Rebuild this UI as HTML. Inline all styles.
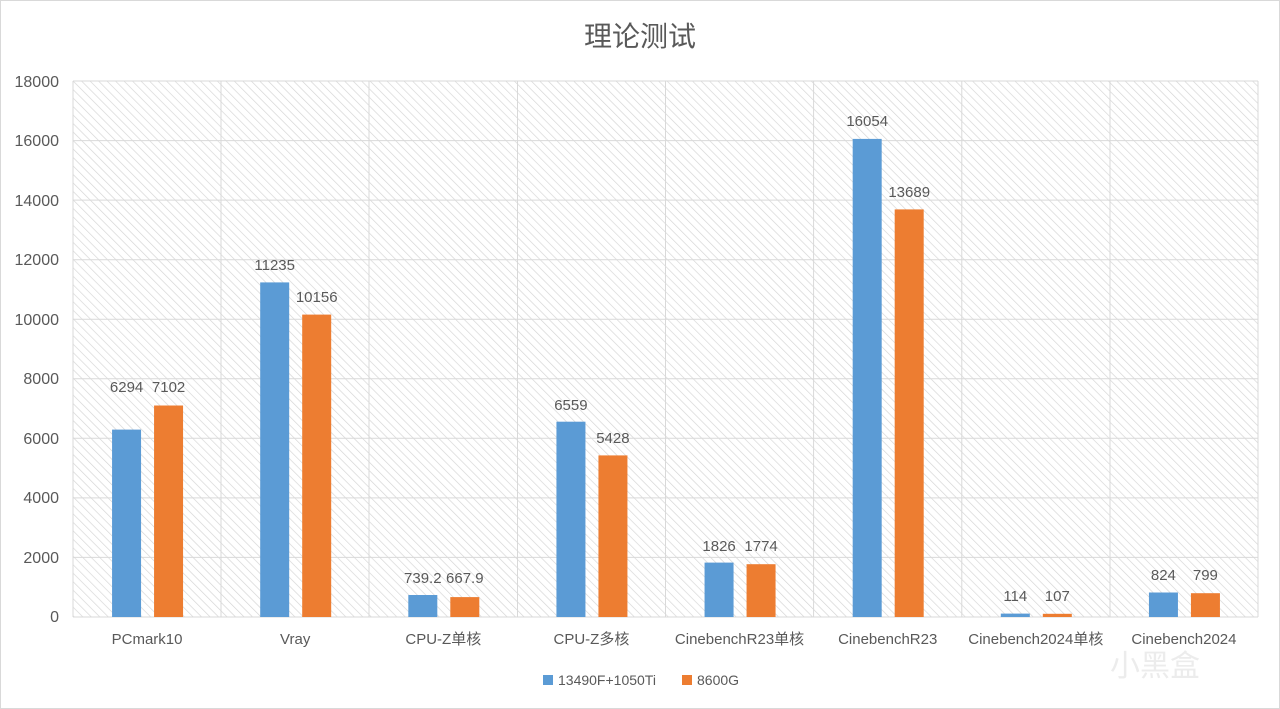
<!DOCTYPE html><html><head><meta charset="utf-8"><style>body{margin:0;background:#fff}svg{display:block}text{font-family:"Liberation Sans","Noto Sans CJK SC",sans-serif;fill:#595959}</style></head><body>
<svg width="1280" height="709" xmlns="http://www.w3.org/2000/svg">
<defs><pattern id="h" width="6" height="6" patternUnits="userSpaceOnUse" patternTransform="rotate(-45)"><rect width="6" height="6" fill="#fff"/><line x1="0" y1="0" x2="0" y2="6" stroke="#d4d4d4" stroke-width="1.3"/></pattern></defs>
<rect x="0.5" y="0.5" width="1279" height="708" fill="#fff" stroke="#d9d9d9"/>
<text x="640" y="46" font-size="28" text-anchor="middle">理论测试</text>
<rect x="73" y="81" width="1185" height="536" fill="url(#h)"/>
<g stroke="#d9d9d9" stroke-width="1">
<line x1="73" x2="1258" y1="81" y2="81"/><line x1="73" x2="1258" y1="140.6" y2="140.6"/><line x1="73" x2="1258" y1="200.1" y2="200.1"/><line x1="73" x2="1258" y1="259.7" y2="259.7"/><line x1="73" x2="1258" y1="319.2" y2="319.2"/><line x1="73" x2="1258" y1="378.8" y2="378.8"/><line x1="73" x2="1258" y1="438.3" y2="438.3"/><line x1="73" x2="1258" y1="497.9" y2="497.9"/><line x1="73" x2="1258" y1="557.4" y2="557.4"/><line x1="73" x2="1258" y1="617" y2="617"/>
<line x1="73" x2="73" y1="81" y2="617"/><line x1="221" x2="221" y1="81" y2="617"/><line x1="369" x2="369" y1="81" y2="617"/><line x1="517.5" x2="517.5" y1="81" y2="617"/><line x1="665.5" x2="665.5" y1="81" y2="617"/><line x1="813.6" x2="813.6" y1="81" y2="617"/><line x1="961.8" x2="961.8" y1="81" y2="617"/><line x1="1110" x2="1110" y1="81" y2="617"/><line x1="1258" x2="1258" y1="81" y2="617"/>
</g>
<g font-size="16" text-anchor="end">
<text x="59" y="87">18000</text><text x="59" y="146">16000</text><text x="59" y="206">14000</text><text x="59" y="265">12000</text><text x="59" y="325">10000</text><text x="59" y="384">8000</text><text x="59" y="444">6000</text><text x="59" y="503">4000</text><text x="59" y="563">2000</text><text x="59" y="622">0</text>
</g>
<g fill="#5b9bd5">
<rect x="112.06" y="429.6" width="29" height="187.4"/>
<rect x="260.19" y="282.4" width="29" height="334.6"/>
<rect x="408.31" y="595.0" width="29" height="22.0"/>
<rect x="556.44" y="421.7" width="29" height="195.3"/>
<rect x="704.56" y="562.6" width="29" height="54.4"/>
<rect x="852.69" y="138.9" width="29" height="478.1"/>
<rect x="1000.81" y="613.6" width="29" height="3.4"/>
<rect x="1148.94" y="592.5" width="29" height="24.5"/>
</g>
<g fill="#ed7d31">
<rect x="154.06" y="405.5" width="29" height="211.5"/>
<rect x="302.19" y="314.6" width="29" height="302.4"/>
<rect x="450.31" y="597.1" width="29" height="19.9"/>
<rect x="598.44" y="455.4" width="29" height="161.6"/>
<rect x="746.56" y="564.2" width="29" height="52.8"/>
<rect x="894.69" y="209.4" width="29" height="407.6"/>
<rect x="1042.81" y="613.8" width="29" height="3.2"/>
<rect x="1190.94" y="593.2" width="29" height="23.8"/>
</g>
<g font-size="15" text-anchor="middle">
<text x="126.6" y="392">6294</text><text x="168.6" y="392">7102</text>
<text x="274.7" y="270">11235</text><text x="316.7" y="302">10156</text>
<text x="422.8" y="583">739.2</text><text x="464.8" y="583">667.9</text>
<text x="570.9" y="410">6559</text><text x="612.9" y="443">5428</text>
<text x="719.1" y="551">1826</text><text x="761.1" y="551">1774</text>
<text x="867.2" y="126">16054</text><text x="909.2" y="197">13689</text>
<text x="1015.3" y="601">114</text><text x="1057.3" y="601">107</text>
<text x="1163.4" y="580">824</text><text x="1205.4" y="580">799</text>
<text x="147.06" y="644">PCmark10</text>
<text x="295.19" y="644">Vray</text>
<text x="443.31" y="644">CPU-Z单核</text>
<text x="591.44" y="644">CPU-Z多核</text>
<text x="739.56" y="644">CinebenchR23单核</text>
<text x="887.69" y="644">CinebenchR23</text>
<text x="1035.81" y="644">Cinebench2024单核</text>
<text x="1183.94" y="644">Cinebench2024</text>
</g>
<rect x="543" y="675" width="10" height="10" fill="#5b9bd5"/><text x="558" y="685" font-size="14">13490F+1050Ti</text>
<rect x="682" y="675" width="10" height="10" fill="#ed7d31"/><text x="697" y="685" font-size="14">8600G</text>
<text x="1110" y="676" font-size="30" style="fill:#ececec">小黑盒</text>
</svg></body></html>
